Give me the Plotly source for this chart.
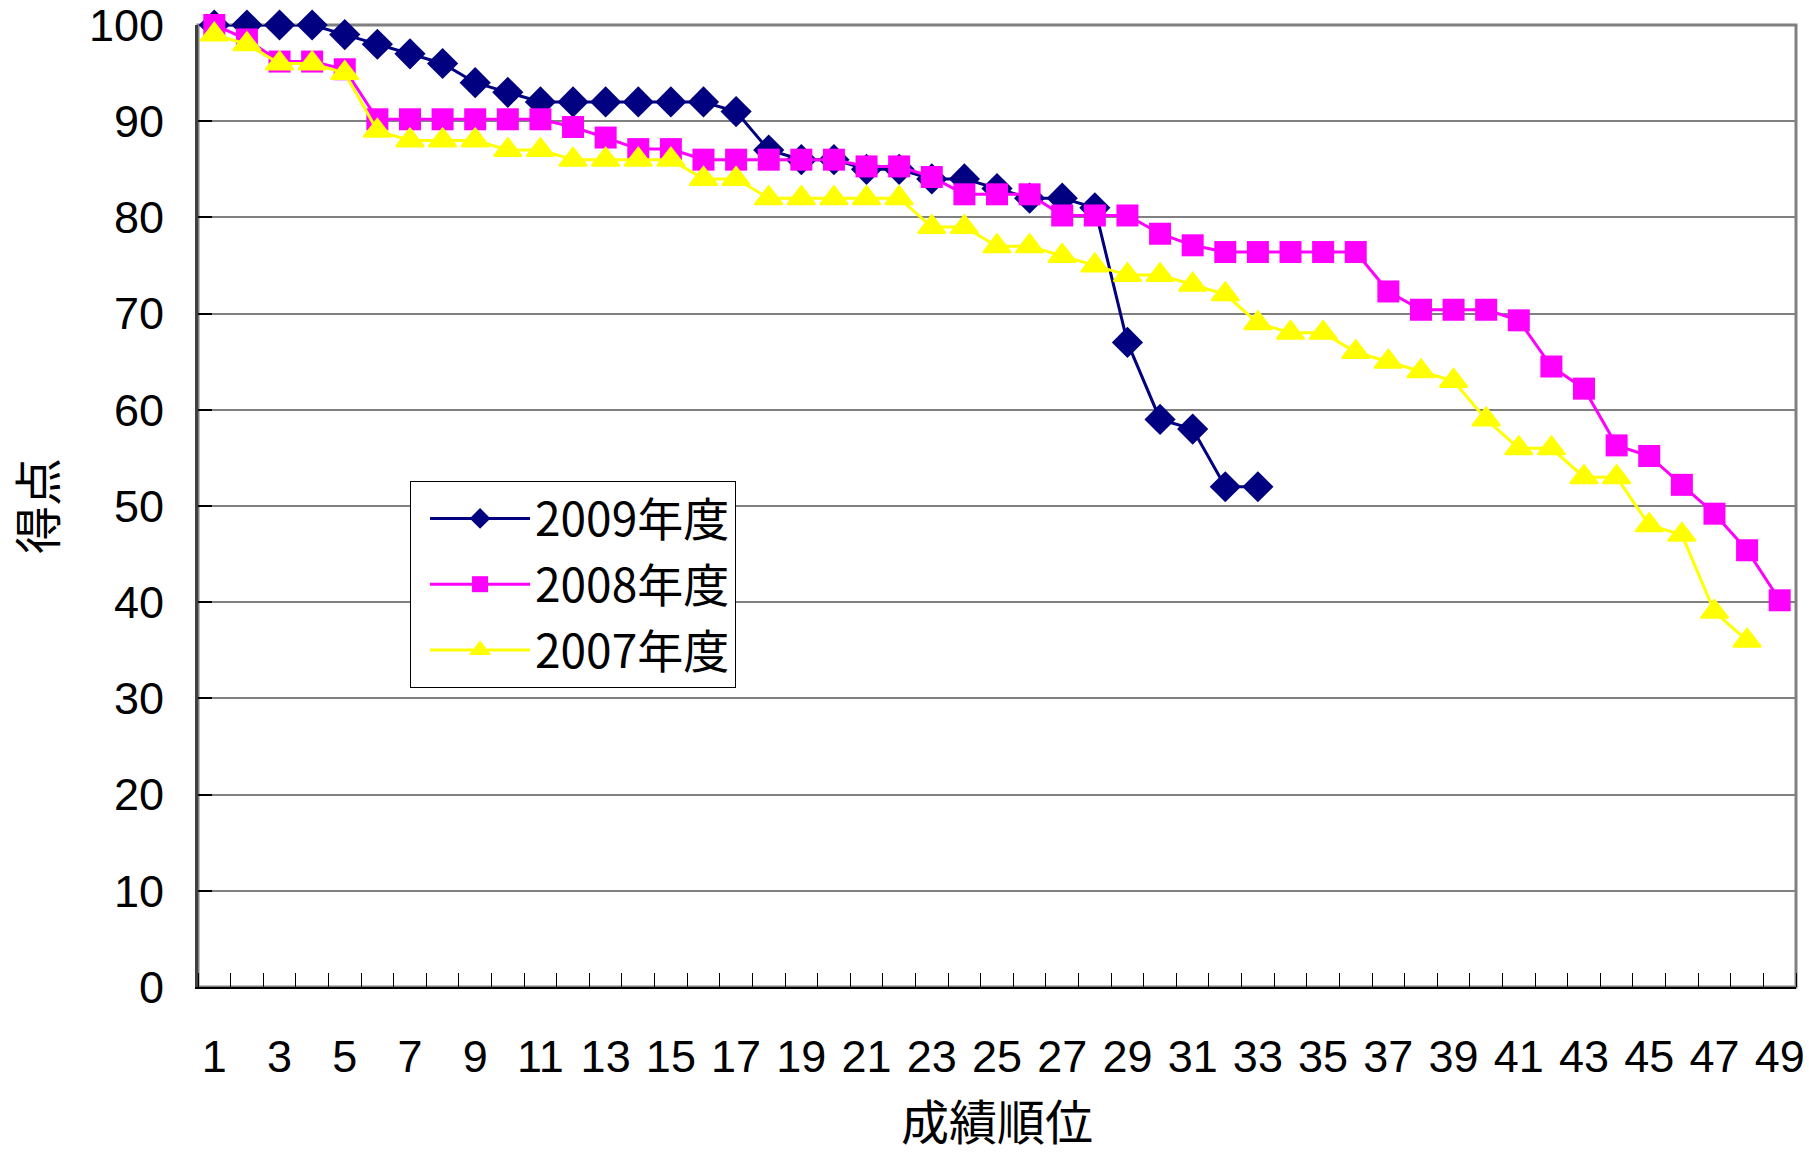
import plotly.graph_objects as go

# Score by ranking position, three academic years
ranks_2009 = list(range(1, 34))
scores_2009 = [100, 100, 100, 100, 99, 98, 97, 96, 94, 93, 92, 92, 92, 92, 92, 92,
               91, 87, 86, 86, 85, 85, 84, 84, 83, 82, 82, 81, 67, 59, 58, 52, 52]

ranks_2008 = list(range(1, 50))
scores_2008 = [100, 98.5, 96.2, 96.2, 95.4, 90.2, 90.2, 90.2, 90.2, 90.2, 90.2,
               89.4, 88.3, 87.1, 87.1, 86.0, 86.0, 86.0, 86.0, 86.0, 85.3, 85.3,
               84.2, 82.4, 82.4, 82.4, 80.2, 80.2, 80.2, 78.3, 77.1, 76.4, 76.4,
               76.4, 76.4, 76.4, 72.3, 70.4, 70.4, 70.4, 69.3, 64.5, 62.2, 56.3,
               55.2, 52.2, 49.2, 45.4, 40.2]

ranks_2007 = list(range(1, 49))
scores_2007 = [99, 98, 96, 96, 95, 89, 88, 88, 88, 87, 87, 86, 86, 86, 86, 84, 84,
               82, 82, 82, 82, 82, 79, 79, 77, 77, 76, 75, 74, 74, 73, 72, 69, 68,
               68, 66, 65, 64, 63, 59, 56, 56, 53, 53, 48, 47, 39, 36]

series_names = ["2009年度", "2008年度", "2007年度"]
x_tick_values = list(range(1, 50, 2))
x_tick_labels = [str(v) for v in x_tick_values]
y_tick_values = list(range(0, 101, 10))

CJK = "Noto Sans CJK JP"
NUM = "Liberation Sans, Arial, sans-serif"

fig = go.Figure()

fig.add_trace(go.Scatter(
    x=ranks_2009, y=scores_2009, name=series_names[0], legendgroup="y2009",
    mode="lines+markers",
    line=dict(color="#000080", width=3),
    marker=dict(symbol="diamond", size=24, color="#000080"),
    cliponaxis=False,
))
fig.add_trace(go.Scatter(
    x=ranks_2008, y=scores_2008, name=series_names[1], legendgroup="y2008",
    mode="lines+markers",
    line=dict(color="#FF00FF", width=3),
    marker=dict(symbol="square", size=22, color="#FF00FF"),
    cliponaxis=False,
))
fig.add_trace(go.Scatter(
    x=ranks_2007, y=scores_2007, name=series_names[2], legendgroup="y2007",
    mode="lines+markers",
    line=dict(color="#FFFF00", width=3),
    marker=dict(symbol="triangle-up", size=24, color="#FFFF00",
                line=dict(color="#FFFF00", width=2)),
    cliponaxis=False,
))

# gray plot-area frame (top edge and right edge)
fig.add_shape(type="rect", xref="paper", yref="paper", x0=0, x1=1, y0=0, y1=1,
              line=dict(color="#808080", width=3), layer="below")

fig.update_layout(
    width=1809, height=1154,
    margin=dict(l=198, r=13, t=25, b=167, autoexpand=False),
    paper_bgcolor="white", plot_bgcolor="white",
    showlegend=True,
    legend=dict(
        x=0.1327, y=0.526, xanchor="left", yanchor="top",
        bgcolor="white", bordercolor="black", borderwidth=1,
        font=dict(family=CJK, size=46, color="black"),
        itemwidth=100, indentation=14,
        traceorder="grouped", tracegroupgap=3,
    ),
    xaxis=dict(
        range=[0.5, 49.5], automargin=False,
        tickmode="array", tickvals=x_tick_values, ticktext=x_tick_labels,
        ticks="", showgrid=False, zeroline=False,
        showline=True, linecolor="black", linewidth=2,
        tickfont=dict(family=NUM, size=45, color="black"),
        ticklabelstandoff=29, ticklabeloverflow="allow",
        minor=dict(tickmode="linear", tick0=0.5, dtick=1, ticks="inside",
                   ticklen=14, tickwidth=1, tickcolor="black", showgrid=False),
        title=dict(text="成績順位", font=dict(family=CJK, size=48, color="black"),
                   standoff=31),
    ),
    yaxis=dict(
        range=[0, 100], automargin=False,
        tickmode="array", tickvals=y_tick_values,
        ticks="inside", ticklen=14, tickwidth=2, tickcolor="black",
        showgrid=True, gridcolor="#808080", gridwidth=2, zeroline=False,
        showline=True, linecolor="#404040", linewidth=3,
        tickfont=dict(family=NUM, size=45, color="black"),
        ticklabelstandoff=22, ticklabeloverflow="allow",
        title=dict(text="得点", font=dict(family=CJK, size=48, color="black"),
                   standoff=28),
    ),
)

fig.write_html("out.html")
